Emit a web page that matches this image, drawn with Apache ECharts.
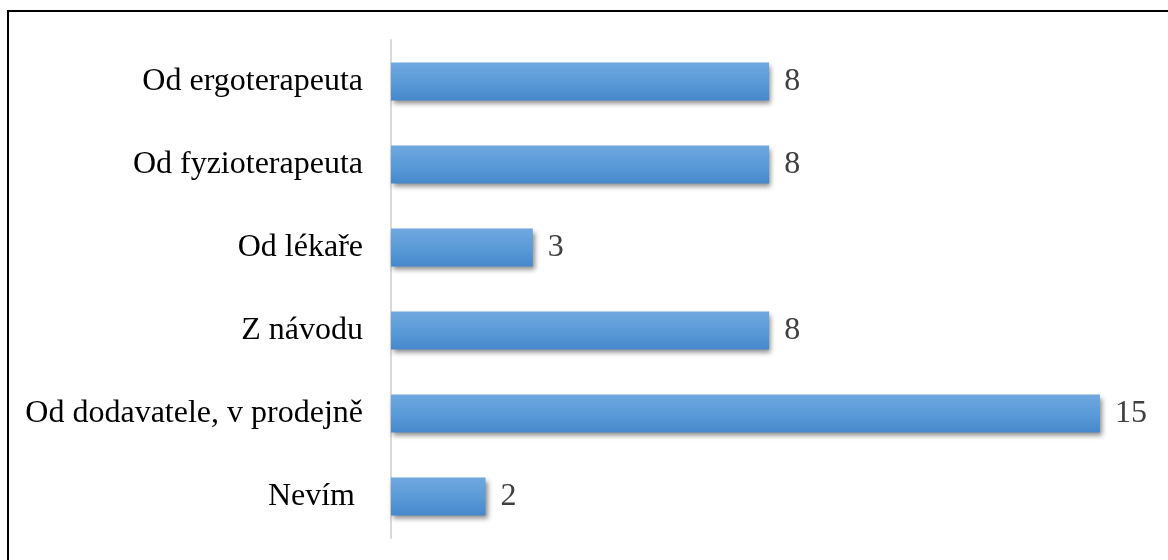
<!DOCTYPE html>
<html>
<head>
<meta charset="utf-8">
<script src="https://cdn.jsdelivr.net/npm/echarts@6/dist/echarts.min.js"></script>
<style>
  html, body { margin: 0; padding: 0; width: 1168px; height: 560px; overflow: hidden; background: #fff; }
  #frame { position: absolute; left: 7px; top: 10px; width: 1300px; height: 700px; border-left: 2px solid #000; border-top: 2px solid #000; }
  #chart { position: absolute; left: 0; top: 0; width: 1168px; height: 560px; }
</style>
</head>
<body>
<div id="frame"></div>
<div id="chart"></div>
<script>
// Where respondents learned to use the device
const categories = ['Od ergoterapeuta', 'Od fyzioterapeuta', 'Od lékaře', 'Z návodu', 'Od dodavatele, v prodejně', 'Nevím '];
const counts = [8, 8, 3, 8, 15, 2];

const serif = '"Liberation Serif", "Times New Roman", serif';

const chart = echarts.init(document.getElementById('chart'), null, { renderer: 'canvas' });
chart.setOption({
  animation: false,
  grid: { left: 391, top: 40, width: 709, height: 498, containLabel: false },
  xAxis: {
    type: 'value', min: 0, max: 15,
    show: false
  },
  yAxis: {
    type: 'category',
    data: categories,
    inverse: true,
    axisLine: { show: true, lineStyle: { color: '#d9d9d9', width: 2 } },
    axisTick: { show: false },
    axisLabel: {
      margin: 28,
      color: '#000',
      fontFamily: serif,
      fontSize: 32,
      formatter: (v) => v.replace(/ $/, '\u00a0')
    }
  },
  series: [{
    type: 'bar',
    data: counts,
    barWidth: 38,
    itemStyle: {
      color: new echarts.graphic.LinearGradient(0, 0, 0, 1, [
        { offset: 0, color: '#70a8df' },
        { offset: 0.5, color: '#5b9bd8' },
        { offset: 1, color: '#4788cc' }
      ]),
      shadowColor: 'rgba(0,0,0,0.45)',
      shadowBlur: 5,
      shadowOffsetX: 2,
      shadowOffsetY: 3
    },
    label: {
      show: true,
      position: 'right',
      distance: 15,
      color: '#404040',
      fontFamily: serif,
      fontSize: 32
    }
  }]
});
</script>
</body>
</html>
